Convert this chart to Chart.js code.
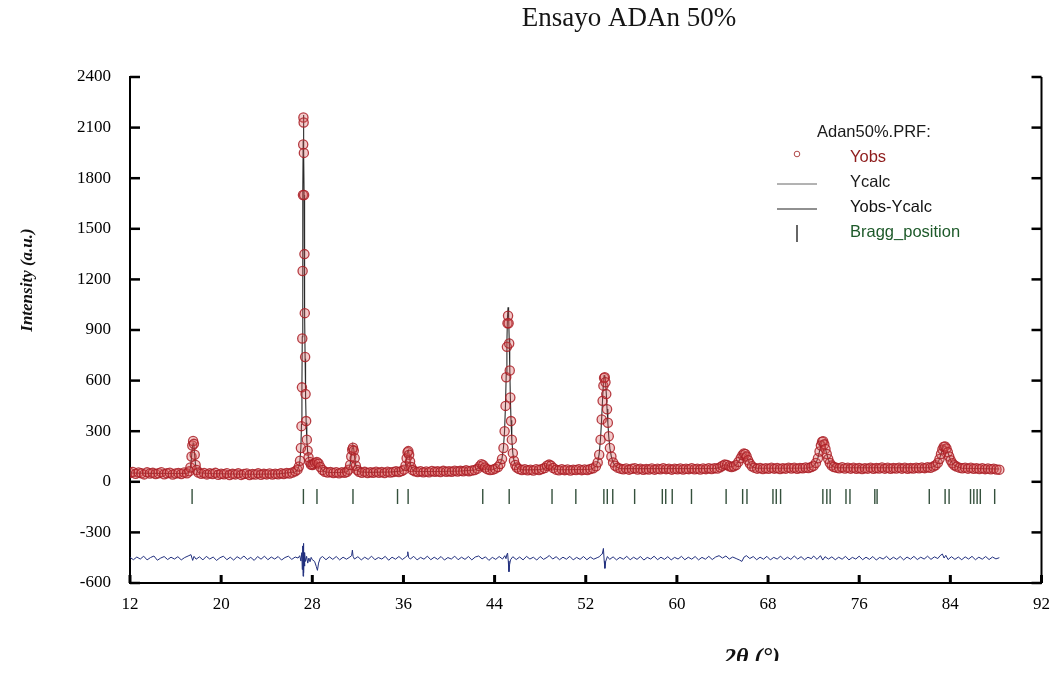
<!DOCTYPE html>
<html>
<head>
<meta charset="utf-8">
<script src="https://cdn.jsdelivr.net/npm/chart.js@4/dist/chart.umd.min.js"></script>
<style>
html,body{margin:0;padding:0;background:#fff;}
#wrap{position:relative;width:1061px;height:675px;overflow:hidden;background:#fff;}
</style>
</head>
<body>
<div id="wrap"><canvas id="c" width="1061" height="675"></canvas></div>
<script>
// ---- text ----
const chartTitle = 'Ensayo ADAn 50%';
const yTitle = 'Intensity (a.u.)';
const xTitle = '2θ (°)';
const legendHeader = 'Adan50%.PRF:';
const legendLabels = ['Yobs', 'Ycalc', 'Yobs-Ycalc', 'Bragg_position'];

// ---- axis ranges ----
const xRange = [12, 92, 8];
const yRange = [-600, 2400, 300];

// ---- observed intensities [2theta, counts] ----
const obsPoints = [
[12.00,52],[12.25,58],[12.50,47],[12.75,55],[13.00,50],[13.25,44],[13.50,56],[13.75,49],[14.00,53],[14.25,46],
[14.50,51],[14.75,57],[15.00,45],[15.25,50],[15.50,54],[15.75,43],[16.00,49],[16.25,52],[16.50,46],[16.75,55],
[17.00,50],[17.20,62],[17.30,85],[17.40,150],[17.47,215],[17.54,242],[17.61,225],[17.68,160],[17.76,100],[17.85,70],
[18.00,55],[18.25,48],[18.50,52],[18.75,44],[19.00,50],[19.25,46],[19.50,53],[19.75,42],[20.00,48],[20.25,45],
[20.50,51],[20.75,40],[21.00,47],[21.25,44],[21.50,50],[21.75,41],[22.00,46],[22.25,49],[22.50,40],[22.75,46],
[23.00,43],[23.25,50],[23.50,42],[23.75,47],[24.00,44],[24.25,49],[24.50,43],[24.75,48],[25.00,45],[25.25,51],
[25.50,46],[25.75,52],[26.00,49],[26.25,55],[26.50,62],[26.70,72],[26.82,90],[26.92,125],[27.00,200],[27.05,330],
[27.09,560],[27.12,850],[27.15,1250],[27.18,1700],[27.20,2000],[27.22,2160],[27.24,2130],[27.26,1950],[27.28,1700],[27.31,1350],
[27.34,1000],[27.37,740],[27.41,520],[27.46,360],[27.52,250],[27.59,185],[27.67,145],[27.76,118],[27.88,102],[28.00,100],
[28.10,104],[28.25,112],[28.40,118],[28.55,108],[28.70,88],[28.90,70],[29.10,60],[29.35,55],[29.60,58],[29.85,52],
[30.10,57],[30.35,50],[30.60,56],[30.85,53],[31.05,60],[31.20,72],[31.32,100],[31.42,150],[31.50,190],[31.57,202],
[31.64,185],[31.72,140],[31.82,95],[31.95,70],[32.10,60],[32.35,54],[32.60,59],[32.85,52],[33.10,57],[33.35,53],
[33.60,60],[33.85,54],[34.10,58],[34.35,52],[34.60,60],[34.85,55],[35.10,58],[35.35,62],[35.60,58],[35.85,64],
[36.05,72],[36.18,95],[36.28,140],[36.36,175],[36.43,182],[36.50,160],[36.58,120],[36.68,88],[36.80,70],[37.00,62],
[37.25,58],[37.50,63],[37.75,56],[38.00,61],[38.25,57],[38.50,64],[38.75,59],[39.00,62],[39.25,58],[39.50,65],
[39.75,60],[40.00,63],[40.25,59],[40.50,66],[40.75,61],[41.00,65],[41.25,62],[41.50,68],[41.75,63],[42.00,67],
[42.25,70],[42.50,78],[42.70,92],[42.85,104],[43.00,98],[43.15,85],[43.35,75],[43.60,70],[43.85,72],[44.05,78],
[44.30,88],[44.50,105],[44.65,135],[44.78,200],[44.88,300],[44.96,450],[45.02,620],[45.08,800],[45.13,940],[45.18,985],
[45.23,940],[45.28,820],[45.33,660],[45.38,500],[45.44,360],[45.51,250],[45.60,170],[45.70,125],[45.82,100],[45.95,85],
[46.15,76],[46.40,70],[46.65,74],[46.90,68],[47.15,72],[47.40,67],[47.65,74],[47.90,70],[48.15,76],[48.40,82],
[48.60,95],[48.78,102],[48.95,96],[49.15,82],[49.40,72],[49.65,68],[49.90,74],[50.15,69],[50.40,73],[50.65,67],
[50.90,72],[51.15,70],[51.40,75],[51.65,69],[51.90,73],[52.15,70],[52.40,76],[52.65,80],[52.90,92],[53.05,115],
[53.18,160],[53.30,250],[53.40,370],[53.48,480],[53.55,570],[53.61,615],[53.67,620],[53.73,590],[53.80,520],[53.87,430],
[53.94,350],[54.02,270],[54.12,200],[54.25,150],[54.40,115],[54.58,95],[54.80,84],[55.05,78],[55.30,74],[55.55,79],
[55.80,72],[56.05,77],[56.30,80],[56.55,73],[56.80,78],[57.05,71],[57.30,76],[57.55,73],[57.80,79],[58.05,72],
[58.30,77],[58.55,74],[58.80,80],[59.05,75],[59.30,78],[59.55,72],[59.80,77],[60.05,74],[60.30,79],[60.55,73],
[60.80,77],[61.05,75],[61.30,80],[61.55,74],[61.80,78],[62.05,73],[62.30,79],[62.55,75],[62.80,80],[63.05,76],
[63.30,81],[63.55,79],[63.80,86],[64.00,95],[64.20,102],[64.40,100],[64.60,92],[64.80,88],[65.00,92],[65.20,100],
[65.40,118],[65.60,140],[65.75,158],[65.88,168],[66.00,165],[66.12,150],[66.25,128],[66.40,108],[66.58,92],[66.80,84],
[67.05,78],[67.30,82],[67.55,76],[67.80,81],[68.05,77],[68.30,83],[68.55,78],[68.80,82],[69.05,76],[69.30,81],
[69.55,78],[69.80,84],[70.05,79],[70.30,83],[70.55,77],[70.80,82],[71.05,80],[71.30,85],[71.55,82],[71.80,88],
[72.00,95],[72.20,112],[72.38,140],[72.52,180],[72.64,215],[72.74,238],[72.84,240],[72.94,222],[73.04,195],[73.15,165],
[73.28,135],[73.42,112],[73.58,97],[73.78,88],[74.00,84],[74.25,80],[74.50,86],[74.75,79],[75.00,84],[75.25,78],
[75.50,83],[75.75,77],[76.00,82],[76.25,76],[76.50,81],[76.75,78],[77.00,84],[77.25,77],[77.50,82],[77.75,79],
[78.00,85],[78.25,78],[78.50,83],[78.75,77],[79.00,82],[79.25,79],[79.50,84],[79.75,78],[80.00,83],[80.25,77],
[80.50,82],[80.75,79],[81.00,84],[81.25,80],[81.50,85],[81.75,81],[82.00,86],[82.25,83],[82.50,90],[82.70,98],
[82.90,112],[83.05,135],[83.18,165],[83.30,192],[83.42,208],[83.54,210],[83.66,198],[83.78,175],[83.90,150],[84.03,128],
[84.18,110],[84.35,98],[84.55,90],[84.80,84],[85.05,80],[85.30,84],[85.55,78],[85.80,83],[86.05,77],[86.30,81],
[86.55,76],[86.80,80],[87.05,75],[87.30,79],[87.55,74],[87.80,78],[88.05,73],[88.30,72]
];

// ---- calculated profile [2theta, counts] ----
const calcPoints = [
[12,52],[14,50],[16,49],[17.0,50],[17.2,60],[17.3,82],[17.4,145],[17.47,205],[17.54,228],[17.61,212],[17.68,150],
[17.76,95],[17.85,68],[18.0,54],[19,49],[21,46],[23,45],[25,47],[26.5,58],[26.7,70],[26.82,90],[26.92,128],
[27.0,205],[27.05,340],[27.09,570],[27.12,860],[27.15,1270],[27.18,1720],[27.2,2020],[27.22,2175],[27.24,2140],
[27.26,1960],[27.28,1700],[27.31,1340],[27.34,990],[27.37,730],[27.41,510],[27.46,350],[27.52,245],[27.59,180],
[27.67,140],[27.76,115],[27.88,102],[28.0,100],[28.1,102],[28.25,110],[28.4,116],[28.55,106],[28.7,86],[28.9,68],
[29.1,59],[29.5,55],[30.5,55],[31.05,60],[31.2,72],[31.32,102],[31.42,155],[31.5,198],[31.57,212],[31.64,192],
[31.72,142],[31.82,96],[31.95,70],[32.1,60],[33,56],[35,59],[35.85,64],[36.05,72],[36.18,96],[36.28,142],
[36.36,178],[36.43,186],[36.5,162],[36.58,120],[36.68,88],[36.8,70],[37,62],[39,61],[41,64],[42.25,70],
[42.5,78],[42.7,92],[42.85,102],[43.0,97],[43.15,85],[43.35,75],[43.6,71],[43.85,73],[44.05,78],[44.3,88],
[44.5,106],[44.65,138],[44.78,205],[44.88,310],[44.96,465],[45.02,640],[45.08,830],[45.13,975],[45.18,1035],
[45.23,985],[45.28,850],[45.33,680],[45.38,510],[45.44,365],[45.51,252],[45.6,170],[45.7,125],[45.82,100],
[45.95,85],[46.15,76],[46.5,71],[48,72],[48.4,80],[48.6,94],[48.78,101],[48.95,95],[49.15,82],[49.4,73],
[50,71],[52.4,74],[52.65,80],[52.9,93],[53.05,117],[53.18,165],[53.3,258],[53.4,380],[53.48,495],[53.55,585],
[53.61,630],[53.67,632],[53.73,600],[53.8,525],[53.87,432],[53.94,348],[54.02,268],[54.12,198],[54.25,148],
[54.4,114],[54.58,95],[54.8,84],[55.05,78],[63.3,79],[63.55,81],[63.8,87],[64.0,95],[64.2,101],[64.4,99],
[64.6,92],[64.8,89],[65.0,93],[65.2,101],[65.4,119],[65.6,142],[65.75,160],[65.88,170],[66.0,166],[66.12,150],
[66.25,128],[66.4,107],[66.58,92],[66.8,84],[67.05,80],[71.5,82],[71.8,87],[72.0,95],[72.2,112],[72.38,142],
[72.52,182],[72.64,218],[72.74,240],[72.84,242],[72.94,224],[73.04,196],[73.15,165],[73.28,134],[73.42,111],
[73.58,97],[73.78,88],[74.0,84],[82.25,83],[82.5,89],[82.7,97],[82.9,112],[83.05,136],[83.18,166],[83.3,193],
[83.42,210],[83.54,212],[83.66,199],[83.78,176],[83.9,150],[84.03,128],[84.18,110],[84.35,98],[84.55,90],
[84.8,84],[85.05,80],[88.3,76]
];

// ---- difference curve Yobs-Ycalc (offset) [2theta, counts] ----
const diffPoints = [
[12,-448],[12.3,-462],[12.6,-446],[12.9,-458],[13.2,-441],[13.5,-463],[13.8,-449],[14.1,-440],[14.4,-465],[14.7,-452],
[15,-443],[15.3,-461],[15.6,-447],[15.9,-458],[16.2,-444],[16.5,-463],[16.8,-449],[17.1,-440],[17.35,-432],[17.5,-466],
[17.62,-442],[17.8,-459],[18.1,-445],[18.4,-463],[18.7,-442],[19,-458],[19.3,-446],[19.6,-466],[19.9,-450],[20.2,-441],
[20.5,-462],[20.8,-447],[21.1,-464],[21.4,-444],[21.7,-457],[22,-440],[22.3,-461],[22.6,-448],[22.9,-466],[23.2,-443],
[23.5,-459],[23.8,-441],[24.1,-462],[24.4,-446],[24.7,-458],[25,-443],[25.3,-464],[25.6,-449],[25.9,-441],[26.2,-460],
[26.5,-446],[26.75,-452],[26.9,-438],[27.0,-470],[27.08,-420],[27.12,-520],[27.16,-380],[27.19,-560],[27.22,-365],[27.25,-540],
[27.28,-420],[27.31,-500],[27.35,-430],[27.4,-472],[27.5,-442],[27.6,-482],[27.7,-452],[27.8,-474],[27.9,-448],[28.0,-462],
[28.2,-472],[28.35,-502],[28.45,-525],[28.55,-482],[28.7,-452],[28.9,-443],[29.2,-462],[29.5,-445],[29.8,-460],[30.1,-443],
[30.4,-463],[30.7,-447],[31,-459],[31.3,-446],[31.45,-438],[31.52,-405],[31.58,-442],[31.7,-458],[32,-444],[32.3,-463],
[32.6,-447],[32.9,-460],[33.2,-441],[33.5,-462],[33.8,-449],[34.1,-458],[34.4,-442],[34.7,-465],[35,-447],[35.3,-459],
[35.6,-443],[35.9,-461],[36.2,-446],[36.32,-438],[36.38,-415],[36.45,-447],[36.6,-458],[36.9,-442],[37.2,-463],[37.5,-448],
[37.8,-459],[38.1,-441],[38.4,-462],[38.7,-447],[39,-460],[39.3,-443],[39.6,-464],[39.9,-449],[40.2,-458],[40.5,-441],
[40.8,-462],[41.1,-447],[41.4,-460],[41.7,-443],[42,-463],[42.3,-446],[42.6,-440],[42.9,-457],[43.2,-445],[43.5,-466],
[43.8,-448],[44.1,-460],[44.4,-443],[44.7,-458],[44.9,-438],[45.0,-456],[45.08,-430],[45.14,-423],[45.2,-470],[45.26,-533],
[45.32,-490],[45.4,-462],[45.6,-444],[45.9,-461],[46.2,-446],[46.5,-463],[46.8,-442],[47.1,-458],[47.4,-447],[47.7,-464],
[48,-443],[48.3,-460],[48.6,-448],[48.8,-437],[49.1,-458],[49.4,-444],[49.7,-462],[50,-447],[50.3,-459],[50.6,-442],
[50.9,-463],[51.2,-448],[51.5,-460],[51.8,-443],[52.1,-462],[52.4,-446],[52.7,-459],[53,-450],[53.2,-444],[53.35,-432],
[53.45,-428],[53.55,-395],[53.62,-470],[53.68,-513],[53.75,-472],[53.9,-443],[54.1,-460],[54.4,-445],[54.7,-463],[55,-448],
[55.3,-459],[55.6,-442],[55.9,-462],[56.2,-447],[56.5,-460],[56.8,-443],[57.1,-464],[57.4,-448],[57.7,-458],[58,-441],
[58.3,-462],[58.6,-447],[58.9,-460],[59.2,-444],[59.5,-463],[59.8,-448],[60.1,-458],[60.4,-442],[60.7,-462],[61,-447],
[61.3,-459],[61.6,-443],[61.9,-463],[62.2,-448],[62.5,-459],[62.8,-442],[63.1,-461],[63.4,-446],[63.7,-438],[64,-452],
[64.3,-440],[64.6,-458],[64.9,-446],[65.2,-455],[65.5,-464],[65.7,-472],[65.9,-446],[66.1,-438],[66.4,-455],[66.7,-443],
[67,-462],[67.3,-447],[67.6,-459],[67.9,-442],[68.2,-463],[68.5,-448],[68.8,-458],[69.1,-441],[69.4,-462],[69.7,-447],
[70,-460],[70.3,-440],[70.6,-458],[70.9,-444],[71.2,-462],[71.5,-447],[71.8,-456],[72,-440],[72.3,-460],[72.6,-438],
[72.8,-464],[73,-444],[73.3,-458],[73.6,-445],[73.9,-462],[74.2,-447],[74.5,-459],[74.8,-442],[75.1,-463],[75.4,-448],
[75.7,-458],[76,-441],[76.3,-462],[76.6,-447],[76.9,-460],[77.2,-443],[77.5,-464],[77.8,-448],[78.1,-458],[78.4,-442],
[78.7,-462],[79,-447],[79.3,-460],[79.6,-443],[79.9,-463],[80.2,-446],[80.5,-459],[80.8,-442],[81.1,-461],[81.4,-447],
[81.7,-458],[82,-441],[82.3,-460],[82.6,-445],[82.9,-455],[83.1,-438],[83.3,-428],[83.45,-452],[83.6,-436],[83.8,-461],
[84.1,-444],[84.4,-460],[84.7,-446],[85,-462],[85.3,-445],[85.6,-458],[85.9,-442],[86.2,-462],[86.5,-447],[86.8,-459],
[87.1,-443],[87.4,-461],[87.7,-446],[88,-457],[88.3,-450]
];

// ---- Bragg reflection positions (2theta) and the level they are drawn at ----
const braggPositions = [17.45,27.22,28.41,31.57,35.48,36.41,42.96,45.28,49.04,51.13,53.59,53.89,54.37,56.29,
58.72,59.02,59.59,61.28,64.32,65.77,66.15,68.43,68.72,69.1,72.81,73.16,73.45,74.84,75.19,77.37,77.57,
82.15,83.54,83.89,85.77,86.06,86.35,86.63,87.89];
const braggLevel = -87;

const toXY = arr => arr.map(p => ({x: p[0], y: p[1]}));

const SERIF = '"Liberation Serif", "Times New Roman", serif';
const SANS = '"Liberation Sans", Arial, sans-serif';

const decor = {
  id: 'decor',
  afterDraw(chart) {
    const ctx = chart.ctx, a = chart.chartArea, xs = chart.scales.x, ys = chart.scales.y;
    ctx.save();
    // inward tick marks + right frame
    ctx.strokeStyle = '#000';
    ctx.lineWidth = 2;
    ctx.beginPath();
    ctx.moveTo(a.right, a.top); ctx.lineTo(a.right, a.bottom);
    ctx.stroke();
    ctx.lineWidth = 2.5;
    ys.ticks.forEach(t => {
      const py = ys.getPixelForValue(t.value);
      ctx.beginPath(); ctx.moveTo(a.left, py); ctx.lineTo(a.left + 10, py); ctx.stroke();
      ctx.beginPath(); ctx.moveTo(a.right, py); ctx.lineTo(a.right - 10, py); ctx.stroke();
    });
    ctx.lineWidth = 3;
    xs.ticks.forEach(t => {
      const px = xs.getPixelForValue(t.value);
      ctx.beginPath(); ctx.moveTo(px, a.bottom); ctx.lineTo(px, a.bottom - 8); ctx.stroke();
    });

    // title
    ctx.fillStyle = '#151515';
    ctx.textAlign = 'center';
    ctx.textBaseline = 'alphabetic';
    ctx.font = '27px ' + SERIF;
    ctx.fillText(chartTitle, 629, 26);

    // y title
    ctx.save();
    ctx.translate(32, 280);
    ctx.rotate(-Math.PI / 2);
    ctx.font = 'italic bold 17px ' + SERIF;
    ctx.fillStyle = '#111';
    ctx.fillText(yTitle, 0, 0);
    ctx.restore();

    // x title (bottom part clipped as in the reference scan)
    ctx.save();
    ctx.beginPath(); ctx.rect(600, 630, 320, 31); ctx.clip();
    ctx.font = 'italic bold 24px ' + SERIF;
    ctx.fillStyle = '#111';
    ctx.fillText(xTitle, 752, 664);
    ctx.restore();

    // legend
    ctx.textAlign = 'left';
    ctx.textBaseline = 'middle';
    ctx.font = '16.5px ' + SANS;
    ctx.fillStyle = '#1a1a1a';
    ctx.fillText(legendHeader, 817, 132);
    const rows = [157, 182, 207, 232];
    const cols = ['#8e1c1c', '#1a1a1a', '#111', '#1e5a2a'];
    legendLabels.forEach((lab, i) => { ctx.fillStyle = cols[i]; ctx.fillText(lab, 850, rows[i]); });
    ctx.lineWidth = 1;
    ctx.strokeStyle = '#b04848';
    ctx.beginPath(); ctx.arc(797, 154, 2.8, 0, Math.PI * 2); ctx.stroke();
    ctx.strokeStyle = '#666';
    ctx.beginPath(); ctx.moveTo(777, 184); ctx.lineTo(817, 184); ctx.stroke();
    ctx.strokeStyle = '#222'; ctx.lineWidth = 1.2;
    ctx.beginPath(); ctx.moveTo(777, 209); ctx.lineTo(817, 209); ctx.stroke();
    ctx.strokeStyle = '#333'; ctx.lineWidth = 1.5;
    ctx.beginPath(); ctx.moveTo(797, 225); ctx.lineTo(797, 242); ctx.stroke();
    ctx.restore();
  }
};

new Chart(document.getElementById('c'), {
  type: 'scatter',
  data: {
    datasets: [
      { label: 'Yobs', data: toXY(obsPoints), showLine: false, pointRadius: 4.6, pointStyle: 'circle',
        borderColor: 'rgba(170,30,38,0.85)', backgroundColor: 'rgba(215,80,80,0.3)', borderWidth: 1.3, order: 0 },
      { label: 'Ycalc', data: toXY(calcPoints), showLine: true, pointRadius: 0, borderColor: '#2a2a2a',
        borderWidth: 1.1, tension: 0, order: 1 },
      { label: 'Yobs-Ycalc', data: toXY(diffPoints), showLine: true, pointRadius: 0, borderColor: '#22307e',
        borderWidth: 1, tension: 0, order: 2 },
      { label: 'Bragg_position', data: braggPositions.map(v => ({x: v, y: braggLevel})), showLine: false,
        pointStyle: 'line', rotation: 90, pointRadius: 7.5, borderColor: '#34503c', borderWidth: 1.4, order: 3 }
    ]
  },
  options: {
    responsive: false,
    animation: false,
    events: [],
    layout: { padding: { top: 77, right: 11, left: 0, bottom: 0 } },
    plugins: { legend: { display: false }, title: { display: false }, tooltip: { enabled: false } },
    scales: {
      x: {
        type: 'linear', min: xRange[0], max: xRange[1],
        ticks: { stepSize: xRange[2], padding: 11, color: '#000', font: { family: SERIF, size: 17 },
                 callback: v => String(v) },
        grid: { display: false, drawTicks: false },
        border: { display: true, color: '#000', width: 2 },
        afterFit(s) { s.height = 92; }
      },
      y: {
        type: 'linear', min: yRange[0], max: yRange[1],
        ticks: { stepSize: yRange[2], padding: 19, color: '#000', font: { family: SERIF, size: 17 },
                 callback: v => String(v) },
        grid: { display: false, drawTicks: false },
        border: { display: true, color: '#000', width: 2 },
        afterFit(s) { s.width = 130; }
      }
    }
  },
  plugins: [decor]
});
</script>
</body>
</html>
